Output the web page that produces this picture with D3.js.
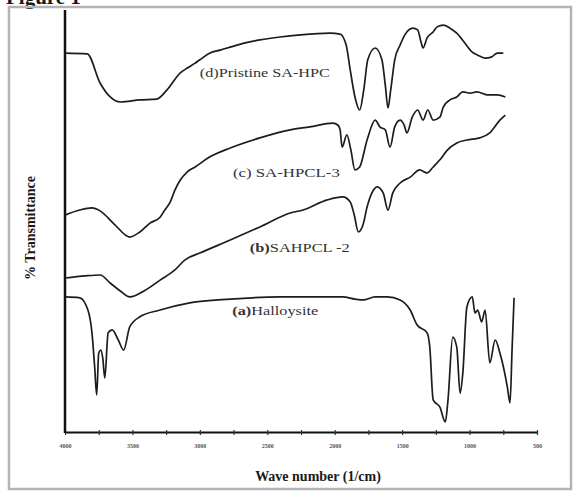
<!DOCTYPE html>
<html>
<head>
<meta charset="utf-8">
<script src="https://cdn.jsdelivr.net/npm/d3@7"></script>
<style>
  html, body { margin: 0; padding: 0; background: #fff; }
  svg { display: block; }
  text { font-family: "Liberation Serif", "DejaVu Serif", serif; fill: #1a1a1a; }
</style>
</head>
<body>
<svg id="chart" width="575" height="493"></svg>
<script>
// FTIR spectra: wavenumber (cm^-1) and % transmittance (arbitrary, offset for stacking)
const waveD = [4000,3835,3740,3665,3590,3445,3320,3245,3145,3090,3035,3000,2925,2850,2775,2665,2555,2405,2255,2035,1960,1915,1885,1850,1815,1785,1755,1700,1650,1625,1605,1585,1555,1515,1480,1420,1385,1360,1345,1315,1270,1240,1195,1145,1095,1035,980,940,885,835,795,750];
const transD = [89.8,89.6,82.7,79.4,78.2,78.7,78.9,81.0,85.1,86.3,87.4,88.2,89.8,90.5,91.2,92.2,92.9,93.6,94.1,94.5,94.3,91.7,85.8,79.4,76.3,81.0,88.2,91.0,88.2,82.2,76.8,81.0,88.2,91.7,94.1,95.7,95.3,92.4,91.0,93.4,94.8,96.0,96.4,95.7,94.5,92.2,90.0,89.3,88.6,88.9,89.8,89.8];

const waveC = [4000,3890,3800,3740,3630,3520,3445,3370,3295,3260,3220,3185,3145,3095,3035,2925,2775,2555,2330,2185,2015,1975,1960,1945,1910,1880,1850,1815,1760,1700,1665,1625,1590,1555,1515,1485,1465,1425,1385,1345,1310,1270,1220,1195,1145,1095,1050,995,945,870,795,735];
const transC = [51.4,52.6,53.1,52.4,49.1,46.2,47.4,49.5,50.9,52.6,54.5,57.3,59.7,61.6,62.8,65.2,67.3,69.7,71.6,72.3,73.2,72.7,71.6,67.5,70.4,66.8,62.1,62.8,69.2,73.9,72.3,71.6,67.5,72.3,73.9,72.7,70.9,74.6,76.3,73.9,76.3,73.9,74.6,77.0,78.7,79.4,80.6,80.3,80.6,79.9,79.9,79.4];

const waveB = [4000,3850,3740,3665,3590,3520,3405,3295,3185,3110,3000,2775,2555,2330,2235,2055,1940,1885,1855,1825,1790,1760,1725,1685,1640,1605,1570,1515,1440,1370,1315,1270,1220,1165,1095,1020,925,850,775,735];
const transB = [36.5,37.0,37.2,35.3,33.4,32.0,33.6,36.0,38.4,40.8,42.4,45.5,48.6,51.9,52.6,55.0,55.7,54.5,51.4,47.4,49.1,53.3,56.6,58.1,56.6,52.6,56.6,59.0,60.4,62.1,61.4,62.8,64.5,66.8,68.5,69.2,69.7,70.9,73.9,75.1];

const waveA = [4000,3890,3830,3800,3780,3765,3750,3735,3720,3705,3680,3650,3605,3565,3520,3445,3295,3075,2775,2405,2035,1940,1850,1790,1700,1610,1515,1440,1390,1315,1295,1270,1220,1180,1160,1125,1095,1070,1050,1020,980,960,940,910,885,850,810,775,720,700,685,670];
const transA = [32.0,31.8,28.9,23.5,15.4,8.8,18.7,19.4,17.5,12.8,23.5,24.2,21.8,19.4,24.9,27.3,28.9,30.6,31.5,32.0,32.0,32.0,31.5,31.3,32.0,32.0,31.3,28.9,25.4,23.5,20.1,7.6,5.9,2.4,7.6,22.5,20.1,9.2,14.0,29.6,32.0,28.2,28.9,26.1,28.9,16.4,21.8,18.7,10.7,6.9,19.4,31.8];

const xTicks = [4000,3750,3500,3250,3000,2750,2500,2250,2000,1750,1500,1250,1000,750,500];

// label text, anchor wavenumber and transmittance
const seriesLabels = [
  { tag: "(d)", rest: "Pristine SA-HPC", bold: false, wave: 3000, t: 84.1, len: 130 },
  { tag: "(c)", rest: " SA-HPCL-3",      bold: false, wave: 2755, t: 60.4, len: 107 },
  { tag: "(b)", rest: "SAHPCL -2",       bold: true,  wave: 2630, t: 42.7, len: 100 },
  { tag: "(a)", rest: "Halloysite",      bold: true,  wave: 2760, t: 27.7, len: 86 }
];

const svg = d3.select("#chart");

// outer grey frame and the clipped caption above it
svg.append("text")
  .attr("x", 6).attr("y", 4)
  .style("font-size", "21px").style("font-weight", "bold")
  .text("Figure 1");
svg.append("rect")
  .attr("x", 9).attr("y", 7).attr("width", 562).attr("height", 482)
  .attr("fill", "none").attr("stroke", "#b4b4b4").attr("stroke-width", 2.5);

const x = d3.scaleLinear().domain([4000, 500]).range([65, 537]);
const y = d3.scaleLinear().domain([0, 100]).range([432, 10]);

// x axis
const xAxis = d3.axisBottom(x)
  .tickValues(xTicks)
  .tickSizeInner(3).tickSizeOuter(0).tickPadding(9)
  .tickFormat(d => d % 500 === 0 ? d : "");
const gx = svg.append("g").attr("transform", `translate(0,${y(0)})`).call(xAxis);
gx.select(".domain").attr("stroke", "#111").attr("stroke-width", 2);
gx.selectAll(".tick line").attr("stroke", "#333").attr("stroke-width", 1.2).attr("y1", -2);
gx.selectAll(".tick text")
  .style("font-size", "6px").style("font-weight", "bold")
  .style("fill", "#555")
  .attr("font-family", "Liberation Serif");

// y axis: plain line, no ticks
svg.append("line")
  .attr("x1", x(4000)).attr("x2", x(4000))
  .attr("y1", y(100)).attr("y2", y(0) + 1)
  .attr("stroke", "#111").attr("stroke-width", 2.5);

// spectra
const line = d3.line()
  .x(d => x(d[0]))
  .y(d => y(d[1]))
  .curve(d3.curveMonotoneX);

const spectra = [
  d3.zip(waveD, transD),
  d3.zip(waveC, transC),
  d3.zip(waveB, transB),
  d3.zip(waveA, transA)
];

svg.append("g").selectAll("path")
  .data(spectra)
  .join("path")
  .attr("d", line)
  .attr("fill", "none")
  .attr("stroke", "#1c1c1c")
  .attr("stroke-width", 1.7)
  .attr("stroke-linejoin", "round");

// series labels
seriesLabels.forEach(l => {
  const t = svg.append("text")
    .attr("x", x(l.wave)).attr("y", y(l.t))
    .attr("textLength", l.len).attr("lengthAdjust", "spacingAndGlyphs")
    .style("font-size", "12.5px")
    .style("fill", "#333");
  t.append("tspan").style("font-weight", l.bold ? "bold" : "normal").text(l.tag);
  t.append("tspan").text(l.rest);
});

// axis titles
svg.append("text")
  .attr("x", 318).attr("y", 481)
  .attr("text-anchor", "middle")
  .style("font-size", "14px").style("font-weight", "bold")
  .text("Wave number (1/cm)");

svg.append("text")
  .attr("transform", "translate(35,228) rotate(-90)")
  .attr("text-anchor", "middle")
  .style("font-size", "14px").style("font-weight", "bold")
  .text("% Transmittance");
</script>
</body>
</html>
